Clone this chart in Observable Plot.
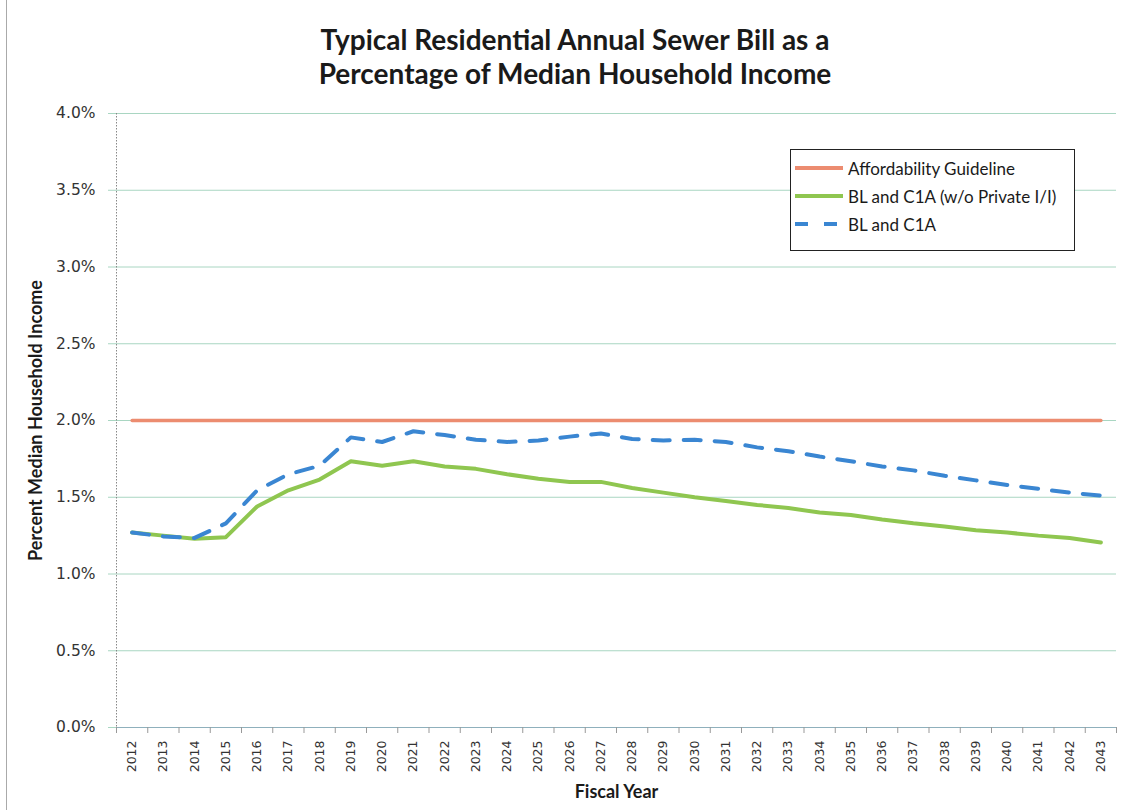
<!DOCTYPE html>
<html><head><meta charset="utf-8">
<script src="https://cdn.jsdelivr.net/npm/d3@7"></script>
<script src="https://cdn.jsdelivr.net/npm/@observablehq/plot@0.6"></script>
<style>
body{margin:0;background:#fff;}
#wrap{position:relative;width:1128px;height:810px;overflow:hidden;background:#fff;}
#edge{position:absolute;left:6px;top:0;width:1px;height:810px;background:#aaa;}
#title{box-sizing:border-box;height:95px;padding-top:22px;padding-left:22px;text-align:center;font-family:Lato,sans-serif;font-weight:bold;font-size:28px;line-height:34px;color:#1a1a1a;}
#chart svg{display:block;}
#legend{position:absolute;left:790px;top:149px;width:285px;height:102px;box-sizing:border-box;border:1.5px solid #222;background:#fff;font-family:Lato,sans-serif;font-size:17px;color:#1a1a1a;}
.row{position:absolute;left:3px;height:22px;display:flex;align-items:center;white-space:nowrap;}
.row svg{margin-right:4px;}
g[aria-label="x-axis tick label"] text{font-size:12.5px;}
g[aria-label="y-axis tick label"] text{font-size:15.5px;}
g[aria-label="x-axis label"] text, g[aria-label="y-axis label"] text{font-family:Lato,sans-serif;font-weight:bold;font-size:18px;fill:#1a1a1a;}
</style>
</head><body>
<div id="wrap">
  <div id="edge"></div>
  <div id="title">Typical Residential Annual Sewer Bill as a<br>Percentage of Median Household Income</div>
  <div id="chart"></div>
  <div id="legend"></div>
</div>
<script>
const years = [2012,2013,2014,2015,2016,2017,2018,2019,2020,2021,2022,2023,2024,2025,2026,2027,
               2028,2029,2030,2031,2032,2033,2034,2035,2036,2037,2038,2039,2040,2041,2042,2043];
const guideline = [2.0,2.0,2.0,2.0,2.0,2.0,2.0,2.0,2.0,2.0,2.0,2.0,2.0,2.0,2.0,2.0,
                   2.0,2.0,2.0,2.0,2.0,2.0,2.0,2.0,2.0,2.0,2.0,2.0,2.0,2.0,2.0,2.0];
const blC1AwoPrivate = [1.27,1.25,1.23,1.24,1.44,1.545,1.615,1.735,1.705,1.735,1.70,1.685,1.65,1.62,1.60,1.60,
                        1.56,1.53,1.50,1.475,1.45,1.43,1.40,1.385,1.355,1.33,1.31,1.285,1.27,1.25,1.235,1.205];
const blC1A = [1.27,1.245,1.235,1.33,1.545,1.65,1.705,1.89,1.86,1.93,1.905,1.875,1.86,1.87,1.895,1.915,
               1.88,1.87,1.875,1.86,1.825,1.80,1.765,1.735,1.70,1.675,1.64,1.61,1.58,1.555,1.53,1.51];
const yTicks = [0,0.5,1.0,1.5,2.0,2.5,3.0,3.5,4.0];
const seriesNames = ["Affordability Guideline","BL and C1A (w/o Private I/I)","BL and C1A"];
const seriesColors = ["#EC8C70","#8FC650","#3A86D2"];

const toRows = vals => years.map((yr,i) => ({year: yr, value: vals[i]}));
const gridColor = "#a9d6c2";

const chart = Plot.plot({
  width: 1128, height: 715,
  marginTop: 18, marginBottom: 83, marginLeft: 116, marginRight: 12,
  style: {fontFamily: "'DejaVu Sans', sans-serif", fontSize: "14px", color: "#333", background: "transparent"},
  x: {type: "linear", domain: [years[0]-0.5, years[years.length-1]+0.5], axis: null},
  y: {domain: [0, 4], axis: null},
  marks: [
    Plot.ruleY(yTicks.filter(d => d > 0), {stroke: gridColor, strokeWidth: 1}),
    Plot.ruleY([0], {stroke: "#8fb0bc", strokeWidth: 1.2}),
    Plot.ruleX([years[0]-0.5], {stroke: "#888", strokeWidth: 1, strokeDasharray: "1.5,1.5"}),
    Plot.ruleX(years.map(d => d - 0.5).concat([years[years.length-1]+0.5]), {y1: 0, y2: 0, insetBottom: -6, stroke: "#999"}),
    Plot.axisY({ticks: yTicks, tickFormat: d => d.toFixed(1) + "%", tickSize: 8, tickPadding: 13, stroke: gridColor,
      label: "Percent Median Household Income", labelAnchor: "center", labelArrow: "none", labelOffset: 87}),
    Plot.axisX({ticks: years, tickFormat: d => String(d), tickSize: 0, tickRotate: -90, tickPadding: 13,
      label: "Fiscal Year", labelAnchor: "center", labelArrow: "none", labelOffset: 70}),
    Plot.line(toRows(guideline), {x: "year", y: "value", stroke: seriesColors[0], strokeWidth: 3.5}),
    Plot.line(toRows(blC1AwoPrivate), {x: "year", y: "value", stroke: seriesColors[1], strokeWidth: 4}),
    Plot.line(toRows(blC1A), {x: "year", y: "value", stroke: seriesColors[2], strokeWidth: 4, strokeDasharray: "17,14"})
  ]
});
document.getElementById("chart").appendChild(chart);

const legend = document.getElementById("legend");
seriesNames.forEach((name, i) => {
  const row = document.createElement("div");
  row.className = "row";
  row.style.top = (7 + i * 28) + "px";
  const dash = i === 2 ? 'stroke-dasharray="13,16"' : '';
  row.innerHTML = `<svg width="50" height="8"><line x1="1" x2="49" y1="4" y2="4" stroke="${seriesColors[i]}" stroke-width="4" ${dash}/></svg><span>${name}</span>`;
  legend.appendChild(row);
});
</script>
</body></html>
